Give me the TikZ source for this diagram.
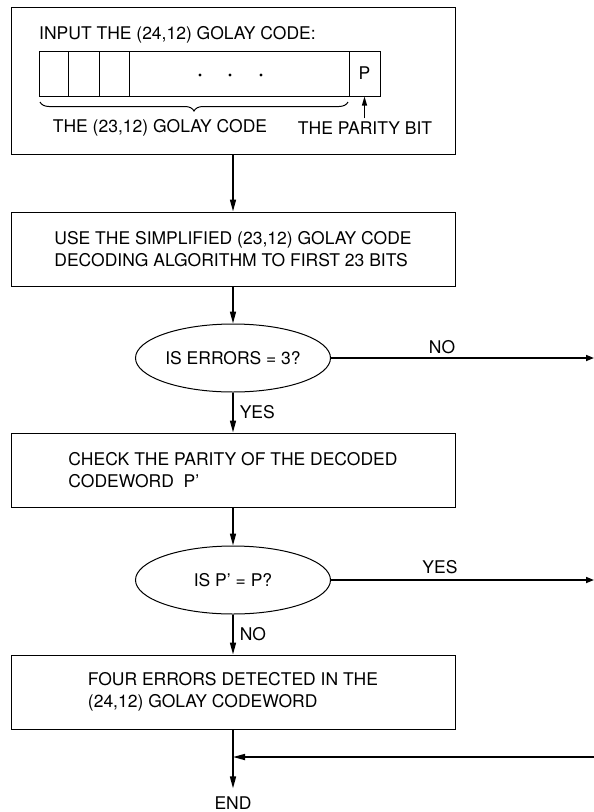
\documentclass[tikz,border=0pt]{standalone}
\usepackage{fontspec}
\setmainfont{TeX Gyre Heros}
\usetikzlibrary{arrows.meta,shapes.geometric,decorations.pathreplacing}
\begin{document}
\begin{tikzpicture}[x=1pt,y=-1pt,
  font=\fontsize{17.5}{21.5}\selectfont,
  box/.style={draw,line width=1pt,minimum width=444pt,minimum height=74pt,align=left,inner sep=0pt},
  dec/.style={draw,ellipse,line width=1pt,minimum width=195pt,minimum height=68pt,inner sep=0pt},
  cell/.style={draw,line width=1pt,minimum height=45pt,inner sep=0pt},
  flow/.style={line width=1.6pt,-{Triangle[length=12pt,width=6pt]}},
  side/.style={line width=1.6pt,-{Triangle[length=8pt,width=6pt]}},
  lbl/.style={inner sep=0pt}]
\useasboundingbox (0,0) rectangle (594,812);
% box 1
\node[box,minimum height=147pt] (b1) at (233,80.5) {};
\node[lbl,anchor=base west] (title) at (39,39) {INPUT THE (24,12) GOLAY CODE:};
\node[cell,minimum width=310pt] (strip) at (194,73.5) {};
\node[cell,minimum width=31pt] (pc) at (364.5,73.5) {P};
\draw[line width=1pt] (68,51) -- (68,96) (99,51) -- (99,96) (129,51) -- (129,96);
\fill (200,75) circle (1.6pt) (230,75) circle (1.6pt) (261,75) circle (1.6pt);
\draw[line width=1pt,decorate,decoration={brace,mirror,amplitude=9pt}] (40,102) -- (348,102);
\node[lbl] (l23) at (160,128) {THE (23,12) GOLAY CODE};
\node[lbl] (lpb) at (365,128) {THE PARITY BIT};
\draw[line width=1.2pt,-{Triangle[length=9pt,width=5pt]}] (pc.south |- lpb.north) ++(0,-3) -- (pc.south);
% flow
\node[box] (b2) at (233,249) {USE THE SIMPLIFIED (23,12) GOLAY CODE\\DECODING ALGORITHM TO FIRST 23 BITS};
\node[dec] (e1) at (233,358) {IS ERRORS = 3?};
\node[box] (b3) at (233,470) {CHECK THE PARITY OF THE DECODED\\CODEWORD\ \ P’};
\node[dec] (e2) at (233,580) {IS P’ = P?};
\node[box] (b4) at (233,692) {FOUR ERRORS DETECTED IN THE\\(24,12) GOLAY CODEWORD};
\node[lbl] (end) at (233,803) {END};
\coordinate (r1) at (594,358);
\coordinate (r2) at (594,580);
\coordinate (r3) at (594,757);
\coordinate (j) at (233,757);
\draw[flow] (b1.south) -- (b2.north);
\draw[flow] (b2.south) -- (e1.north);
\draw[flow] (e1.south) -- node[lbl,right=6pt] (yes1) {YES} (b3.north);
\draw[side] (e1.east) -- (r1);
\node[lbl] (no1) at (442,347) {NO};
\draw[flow] (b3.south) -- (e2.north);
\draw[flow] (e2.south) -- node[lbl,right=6pt] (no2) {NO} (b4.north);
\draw[side] (e2.east) -- (r2);
\node[lbl] (yes2) at (440,567) {YES};
\draw[flow,shorten >=8pt] (b4.south) -- (end.north);
\draw[flow] (r3) -- (j);
\end{tikzpicture}
\end{document}
